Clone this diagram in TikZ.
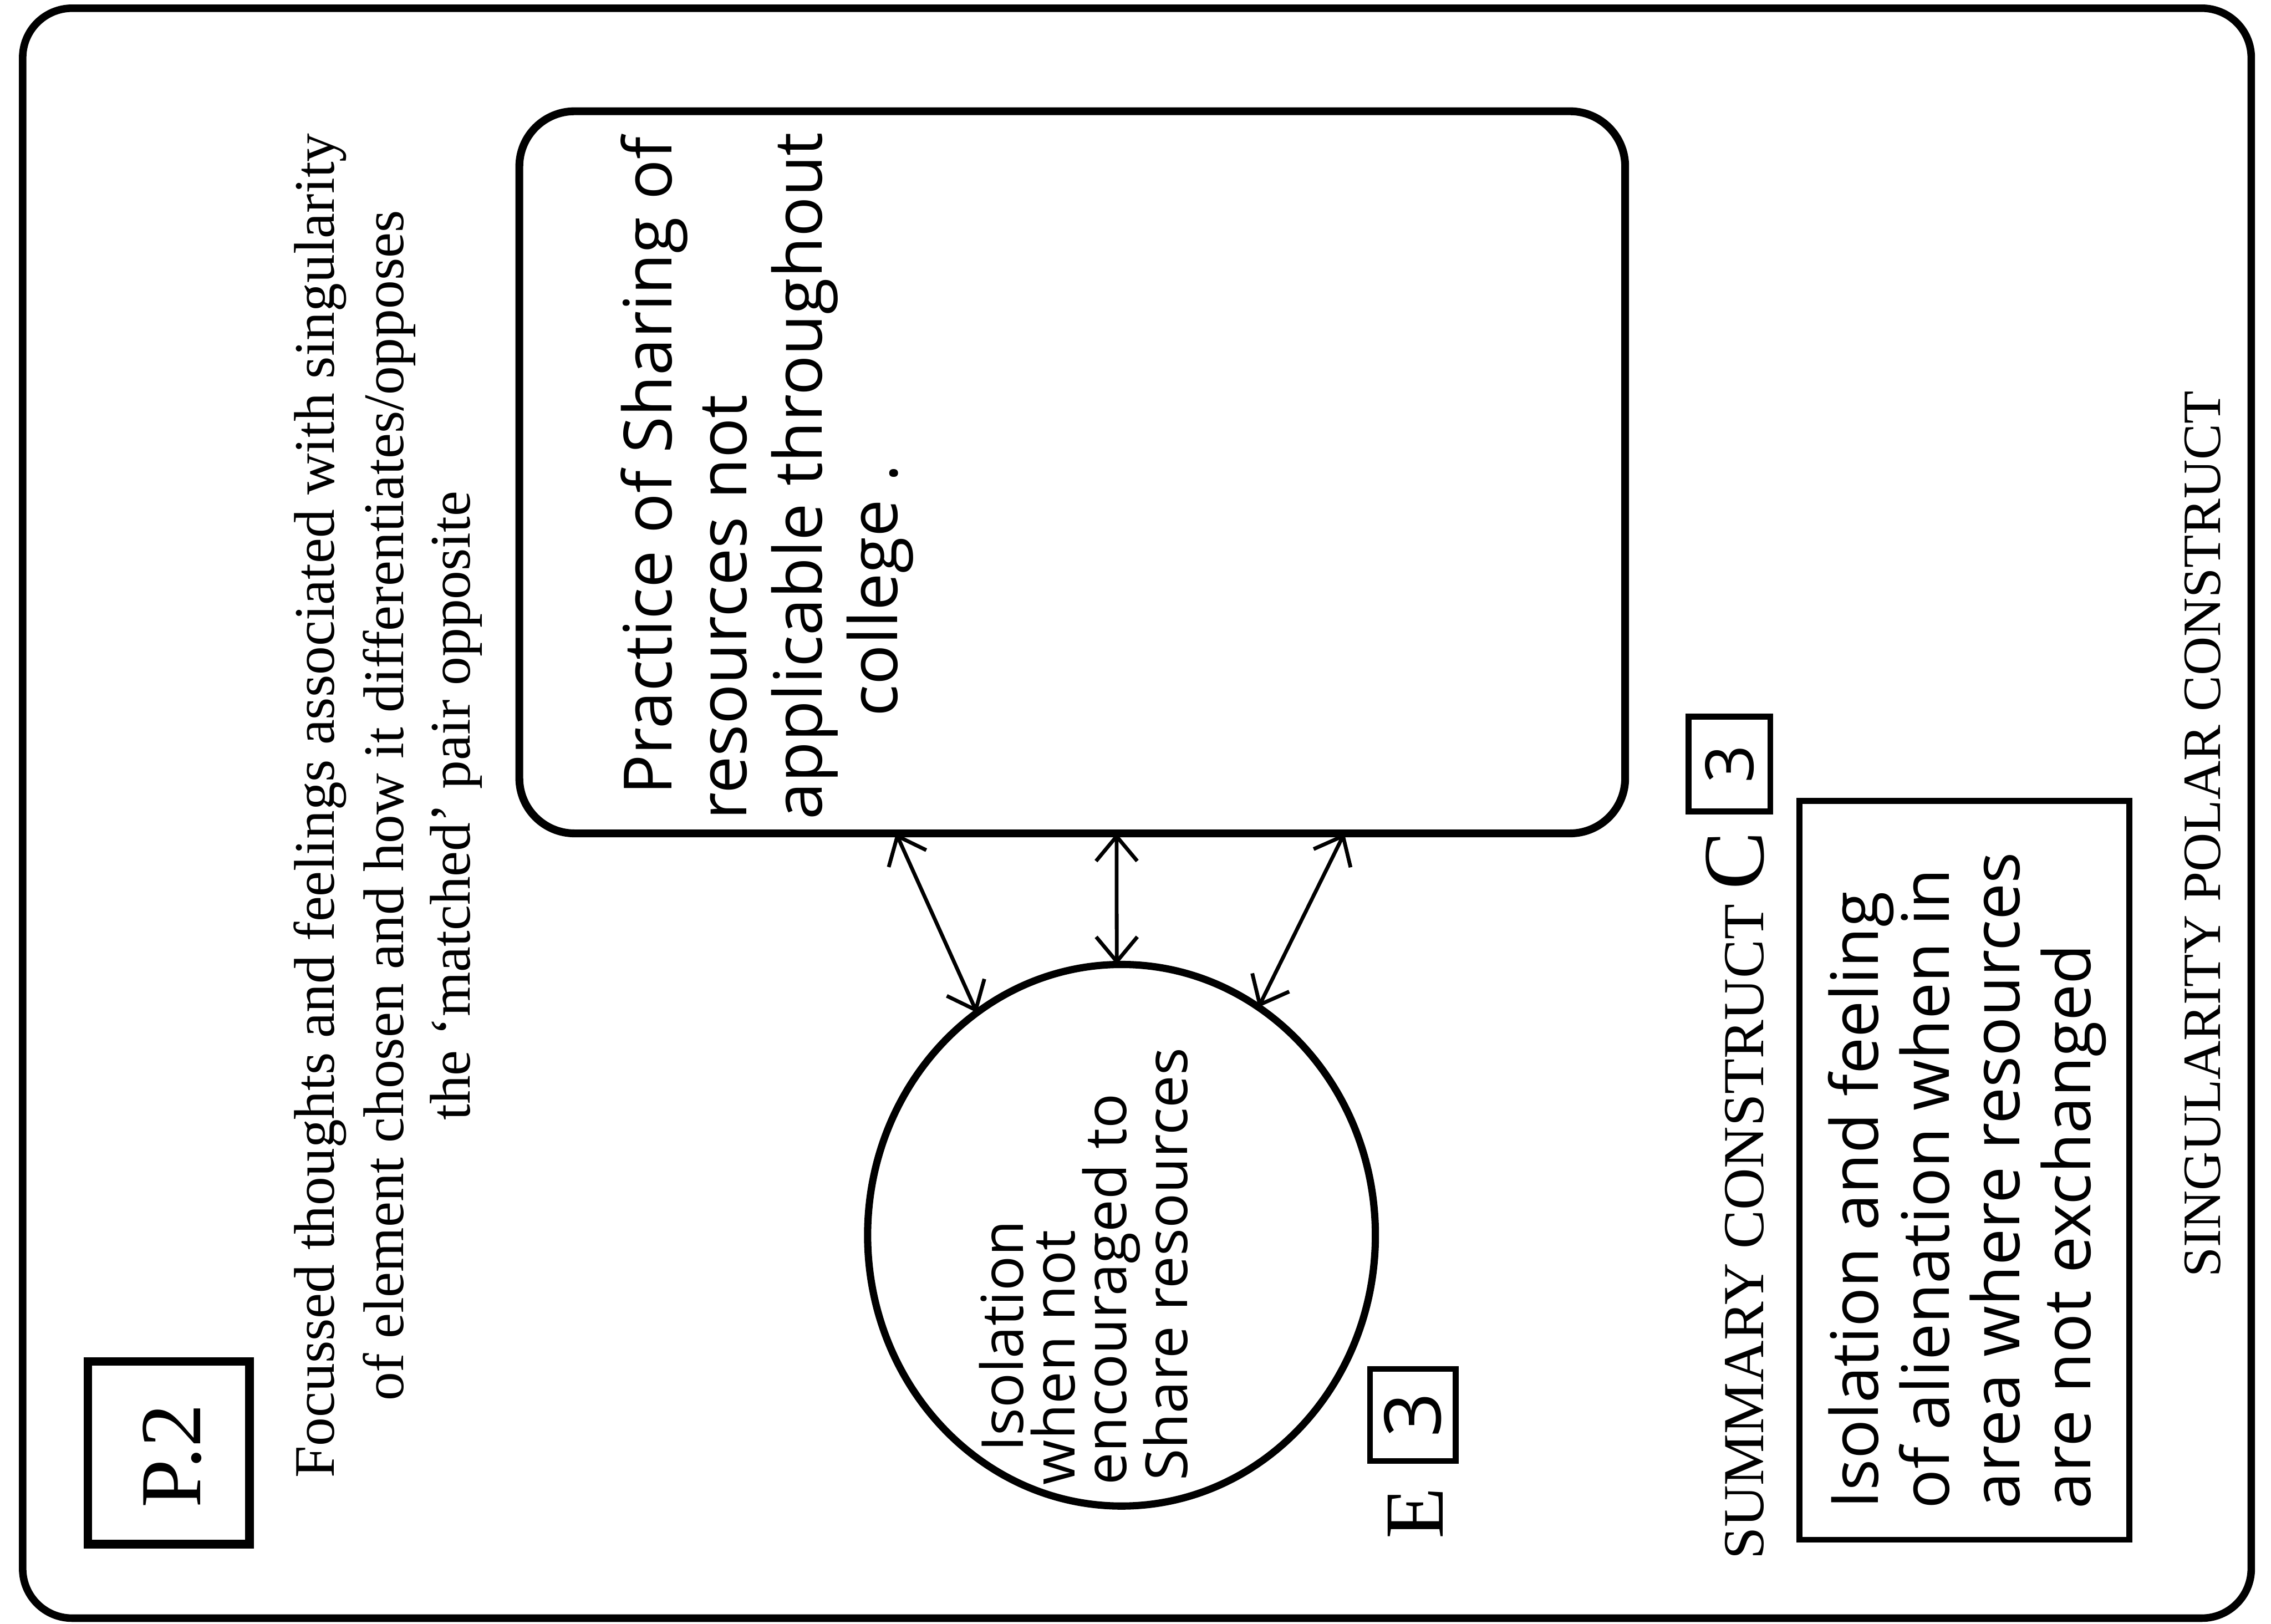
\documentclass[tikz,border=0pt]{standalone}
\usepackage{fontspec}
\setmainfont{Liberation Serif}
\newfontfamily\handfont{Open Sans}
\usetikzlibrary{arrows.meta, shapes.geometric}

\tikzset{
  frameline/.style={line width=2.6pt, rounded corners=0.6cm},
  boxline/.style={draw, line width=2pt, inner sep=0pt, outer sep=0pt},
  printed/.style={inner sep=0pt, rotate=90},
  heading/.style={printed, anchor=base, font=\fontsize{19.8}{19.8}\selectfont},
  hand/.style={inner sep=0pt, rotate=90, align=left, anchor=north west},
  linkarrow/.style={{Straight Barb[length=3mm,width=5mm]}-{Straight Barb[length=3mm,width=5mm]}, line width=1.3pt},
}

\begin{document}
\begin{tikzpicture}
\useasboundingbox (0,0) rectangle (27.55,19.70);
% page frame
\draw[frameline] (0.275,0.07) rectangle (27.31,19.60);

% page number and heading
\node[boxline, line width=3pt, minimum width=1.96cm, minimum height=2.215cm] (pagebox) at (2.045,2.0775) {};
\node[printed, font=\fontsize{30}{30}\selectfont] (pagelabel) at (2.09,2.04) {P.2};
\node[heading] (focusA) at (4.05,9.925) {Focussed thoughts and feelings associated with singularity};
\node[heading] (focusB) at (4.895,9.925) {of element chosen and how it differentiates/opposes};
\node[heading] (focusC) at (5.70,9.925) {the `matched' pair opposite};

% matched pair
\node[draw, line width=2.7pt, rounded corners=0.67cm, minimum width=13.415cm, minimum height=8.76cm, outer sep=0pt] (practice) at (13.0075,13.97) {};
\node[hand, font=\handfont\fontsize{23}{26}\selectfont] (practicetext) at (7.52,9.75)
  {\hspace*{0.3cm}Practice of Sharing of\\resources not\\applicable throughout\\\hspace*{1.25cm}college .};

\node[ellipse, draw, line width=2.5pt, minimum width=6.16cm, minimum height=6.57cm, inner sep=0pt, outer sep=0pt] (isolation) at (13.605,4.715) {};
\node[hand, font=\handfont\fontsize{20}{17.8}\selectfont] (isolationtext) at (11.87,1.68)
  {\hspace*{0.4cm}Isolation\\when not\\encouraged to\\\hspace*{0.05cm}Share resources};

\draw[linkarrow] (practice.244) -- (isolation.123);
\draw[linkarrow] (practice.277) -- (isolation.91);
\draw[linkarrow] (practice.307) -- (isolation.59);

% element number
\node[printed, font=\fontsize{29}{29}\selectfont] (elemlabel) at (17.17,1.34) {E};
\node[boxline, rotate=90, minimum width=1.12cm, minimum height=1.04cm, font=\handfont\fontsize{27}{27}\selectfont] (elemnum) at (17.14,2.535) {3};

% summary construct
\node[printed, anchor=base west, font=\fontsize{20}{20}\selectfont] (sumlabel) at (21.395,0.775)
  {SUMMARY CONSTRUCT {\fontsize{30}{30}\selectfont C}};
\node[boxline, rotate=90, minimum width=1.15cm, minimum height=0.99cm, font=\handfont\fontsize{23}{23}\selectfont] (sumnum) at (20.98,10.43) {3};
\node[boxline, minimum width=4cm, minimum height=8.965cm] (sumbox) at (23.83,5.5025) {};
\node[hand, font=\handfont\fontsize{22.6}{24.4}\selectfont] (sumtext) at (22.17,1.39)
  {Isolation and feeling\\of alienation when in\\area where resources\\are not exchanged};

\node[printed, anchor=base, font=\fontsize{18.6}{18.6}\selectfont] (polarlabel) at (26.935,9.58) {SINGULARITY POLAR CONSTRUCT};
\end{tikzpicture}
\end{document}
